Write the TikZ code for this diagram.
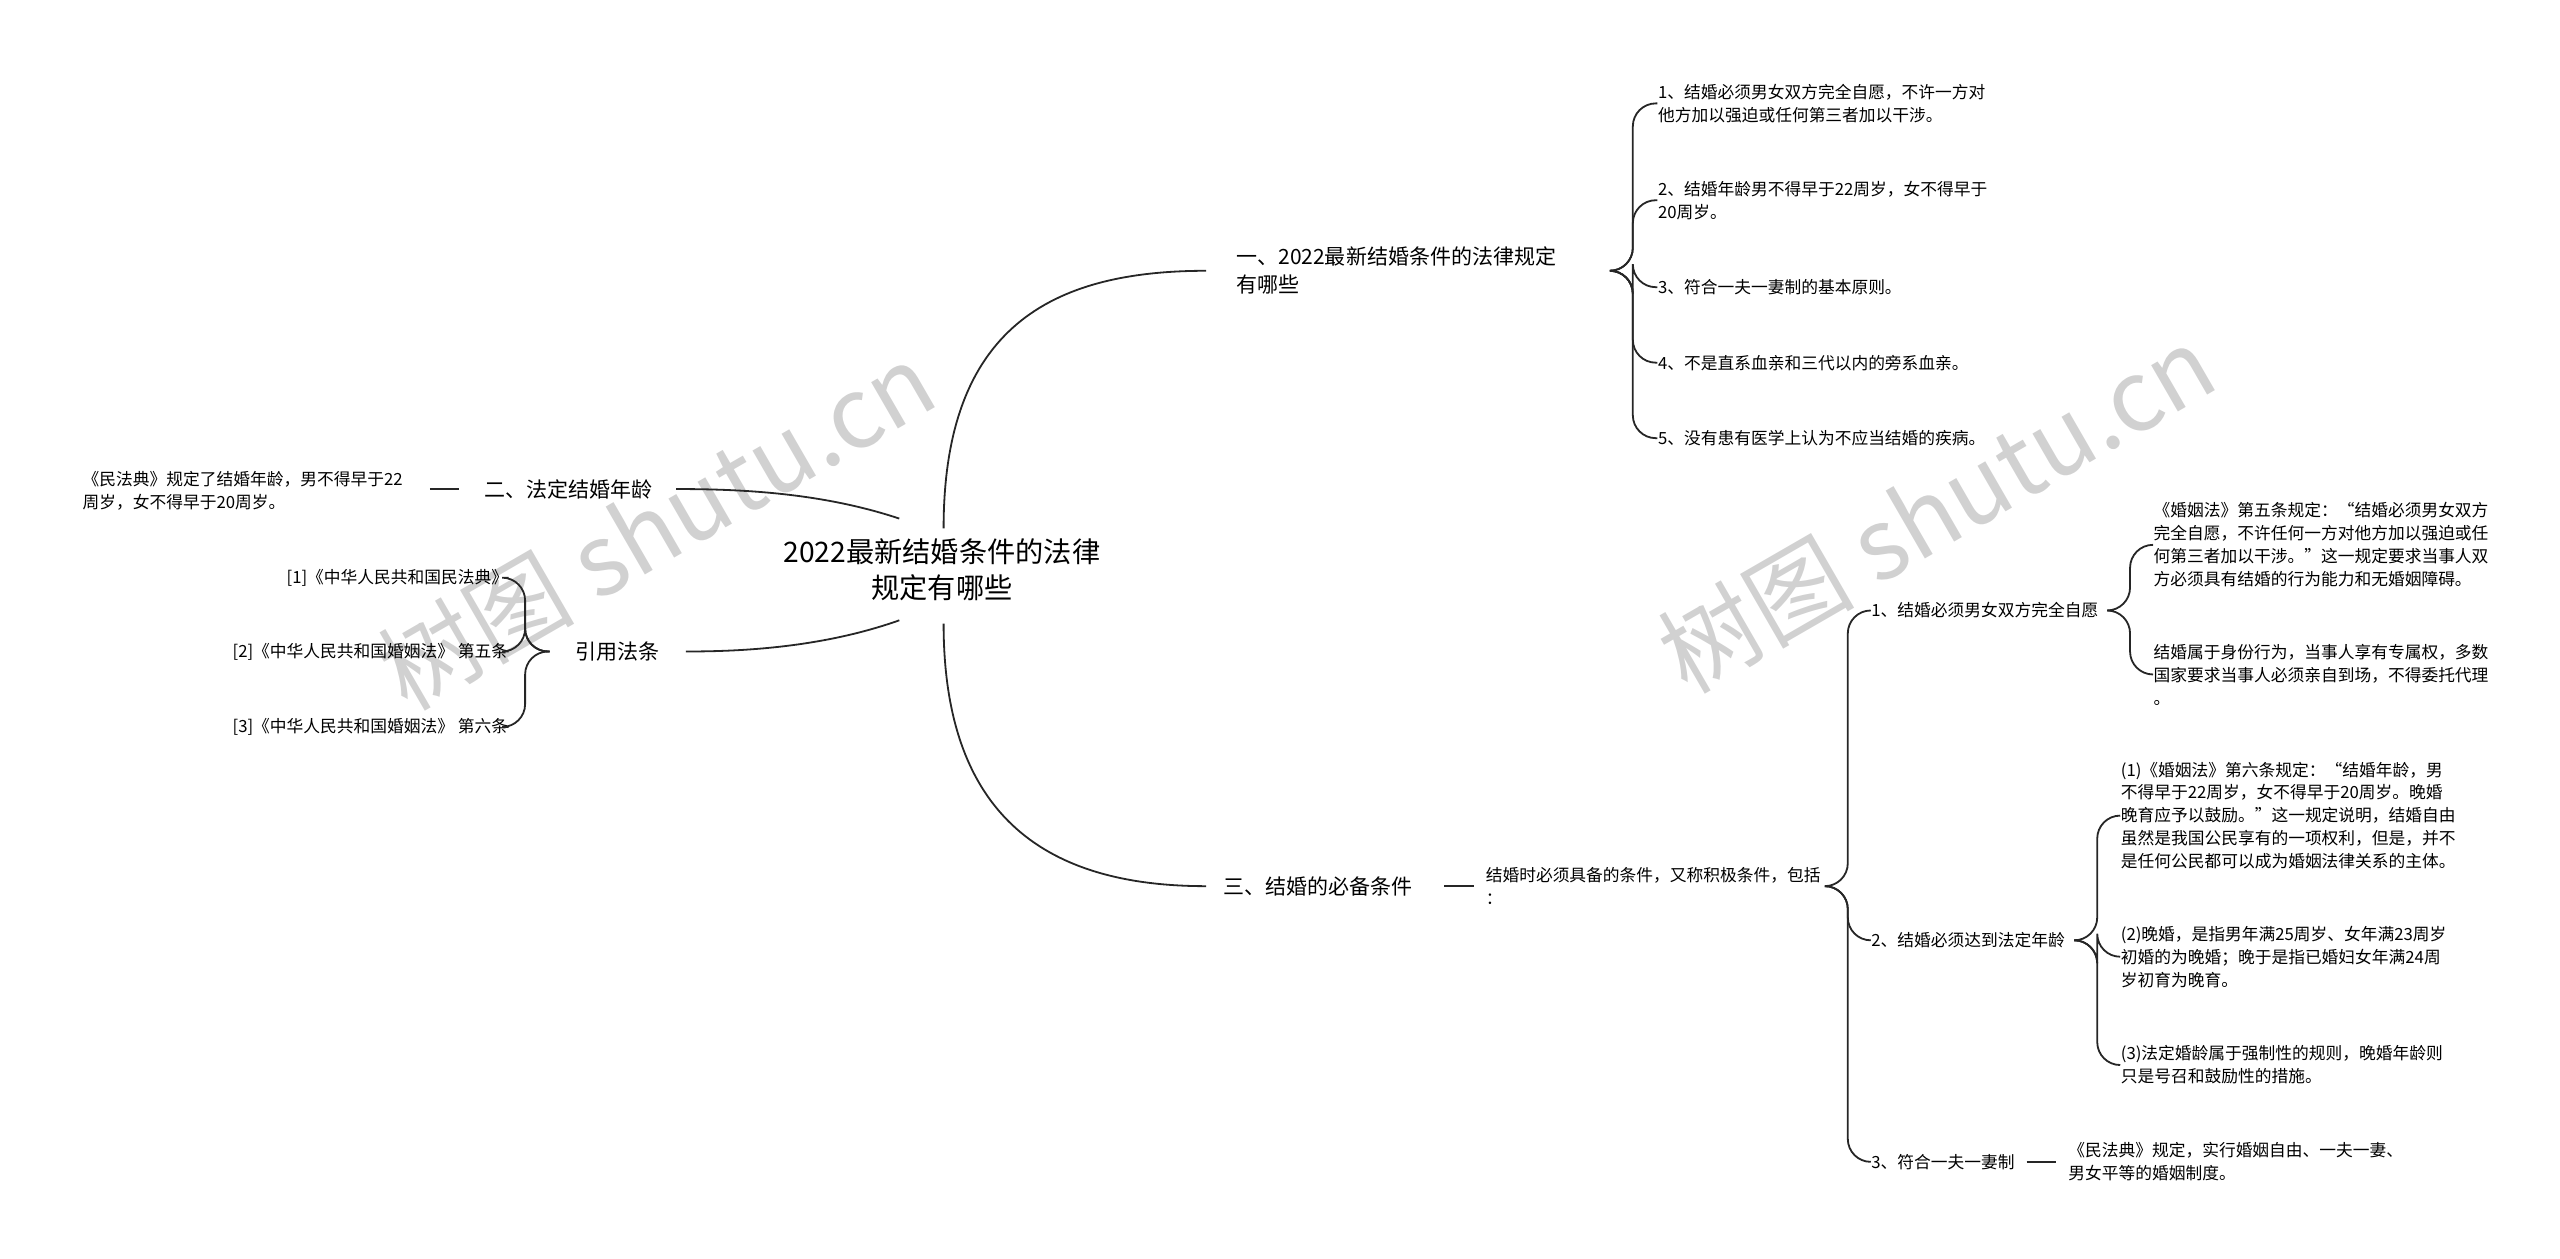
\documentclass[tikz,border=0pt]{standalone}
\usepackage{fontspec}
\setmainfont{Noto Sans CJK SC}
\begin{document}
\begin{tikzpicture}[x=0.5pt,y=-0.5pt,
 leaf/.style={anchor=west,align=left,inner sep=0pt,font=\fontsize{5.1pt}{7pt}\selectfont},
 lvl/.style={anchor=west,align=left,inner sep=0pt,font=\fontsize{6.4pt}{8.6pt}\selectfont},
 con/.style={draw=black!85,line width=0.55pt},
 wm/.style={text=black!18,font=\fontsize{30pt}{30pt}\selectfont,rotate=30}]
\useasboundingbox (0,0) rectangle (1560,767);
\node[wm] at (400,320) {树图 shutu.cn};
\node[wm] at (1180,310) {树图 shutu.cn};
% root
\node[align=center,inner sep=0pt,font=\fontsize{8.6pt}{11pt}\selectfont] (root) at (574,347) {2022最新结婚条件的法律\\规定有哪些};
\coordinate (rt) at (575,322); \coordinate (rb) at (575,380);
\coordinate (rl1) at (548,316); \coordinate (rl2) at (548,378);
% branch 1
\node[lvl] (b1) at (753,165) {一、2022最新结婚条件的法律规定\\有哪些};
\draw[con] (rt) .. controls (575,200) and (640,165) .. (735,165);
\coordinate (b1e) at (985,165);
\node[leaf] (a1) at (1010,63) {1、结婚必须男女双方完全自愿，不许一方对\\他方加以强迫或任何第三者加以干涉。};
\node[leaf] (a2) at (1010,122) {2、结婚年龄男不得早于22周岁，女不得早于\\20周岁。};
\node[leaf] (a3) at (1010,175) {3、符合一夫一妻制的基本原则。};
\node[leaf] (a4) at (1010,221) {4、不是直系血亲和三代以内的旁系血亲。};
\node[leaf] (a5) at (1010,267) {5、没有患有医学上认为不应当结婚的疾病。};
\foreach \n in {a1,a2,a3,a4,a5}
 \draw[con,rounded corners=7] (b1e) -- (995,165) -- (995,0 |- \n.west) -- (\n.west);
% branch 2
\node[lvl] (b2) at (295,298) {二、法定结婚年龄};
\draw[con] (rl1) .. controls (500,300) and (450,298) .. (412,298);
\node[leaf] (c1) at (50,299) {《民法典》规定了结婚年龄，男不得早于22\\周岁，女不得早于20周岁。};
\draw[con] (262,298) -- (280,298);
% branch ref
\node[lvl] (b3) at (350,397) {引用法条};
\draw[con] (rl2) .. controls (500,395) and (450,397) .. (418,397);
\node[leaf,anchor=east] (d1) at (310,352) {[1]《中华人民共和国民法典》};
\node[leaf,anchor=east] (d2) at (310,397) {[2]《中华人民共和国婚姻法》 第五条};
\node[leaf,anchor=east] (d3) at (310,443) {[3]《中华人民共和国婚姻法》 第六条};
\foreach \n in {d1,d2,d3}
 \draw[con,rounded corners=7] (335,397) -- (320,397) -- (320,0 |- \n.east) -- (\n.east);
% branch 3
\node[lvl] (b4) at (745,540) {三、结婚的必备条件};
\draw[con] (rb) .. controls (575,500) and (640,540) .. (735,540);
\draw[con] (880,540) -- (898,540);
\node[leaf] (e0) at (905,540) {结婚时必须具备的条件，又称积极条件，包括\\：};
\node[leaf] (f1) at (1140,372) {1、结婚必须男女双方完全自愿};
\node[leaf] (f2) at (1140,573) {2、结婚必须达到法定年龄};
\node[leaf] (f3) at (1140,708) {3、符合一夫一妻制};
\foreach \n in {f1,f2,f3}
 \draw[con,rounded corners=7] (1115,540) -- (1126,540) -- (1126,0 |- \n.west) -- (\n.west);
\node[leaf] (g1) at (1312,332) {《婚姻法》第五条规定：“结婚必须男女双方\\完全自愿，不许任何一方对他方加以强迫或任\\何第三者加以干涉。”这一规定要求当事人双\\方必须具有结婚的行为能力和无婚姻障碍。};
\node[leaf] (g2) at (1312,411) {结婚属于身份行为，当事人享有专属权，多数\\国家要求当事人必须亲自到场，不得委托代理\\。};
\foreach \n in {g1,g2}
 \draw[con,rounded corners=7] (1288,372) -- (1298,372) -- (1298,0 |- \n.west) -- (\n.west);
\node[leaf] (h1) at (1292,497) {(1)《婚姻法》第六条规定：“结婚年龄，男\\不得早于22周岁，女不得早于20周岁。晚婚\\晚育应予以鼓励。”这一规定说明，结婚自由\\虽然是我国公民享有的一项权利，但是，并不\\是任何公民都可以成为婚姻法律关系的主体。};
\node[leaf] (h2) at (1292,583) {(2)晚婚，是指男年满25周岁、女年满23周岁\\初婚的为晚婚；晚于是指已婚妇女年满24周\\岁初育为晚育。};
\node[leaf] (h3) at (1292,649) {(3)法定婚龄属于强制性的规则，晚婚年龄则\\只是号召和鼓励性的措施。};
\foreach \n in {h1,h2,h3}
 \draw[con,rounded corners=7] (1266,573) -- (1278,573) -- (1278,0 |- \n.west) -- (\n.west);
\draw[con] (1235,708) -- (1253,708);
\node[leaf] (k1) at (1260,708) {《民法典》规定，实行婚姻自由、一夫一妻、\\男女平等的婚姻制度。};
\end{tikzpicture}
\end{document}
